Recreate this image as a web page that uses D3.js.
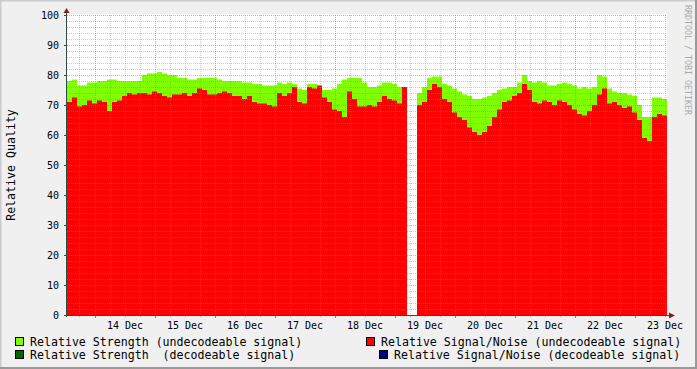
<!DOCTYPE html>
<html>
<head>
<meta charset="utf-8">
<script src="https://cdn.jsdelivr.net/npm/d3@7"></script>
<style>
  html, body { margin: 0; padding: 0; background: #f0f0f0; }
  svg { display: block; }
  text { font-family: 'DejaVu Sans Mono', monospace; }
</style>
</head>
<body>
<div id="viz"></div>
<script>
const width = 697;
const height = 369;
const plot = {left: 67, right: 667, top: 15, bottom: 315};

// samples every 2 hours, first one at 13 Dec 13:00 (null = no data)
const startTime = Date.UTC(2008, 11, 13, 13);
const stepHours = 2;

const strength = [
  78, 78.5, 76.5, 76.5, 77.5, 77.5, 78, 78, 78.5, 78.5,
  78, 78, 78, 78, 78, 80, 80.5, 80.5, 81, 80.5,
  80, 80, 79, 79, 78.5, 78.5, 79, 79, 79, 79,
  78.5, 78, 78, 78, 78, 77.5, 77.5, 77, 77, 76.5,
  76.5, 76.5, 77.5, 77, 77.5, 77, 75.5, 75, 77, 77,
  76.5, 75, 75, 75.5, 77, 78.5, 79, 79, 79, 77.5,
  76, 76, 76.5, 77.5, 77.5, 77, 76, 75.5, 75.5, null,
  74, 76, 79, 79.5, 79.5, 77, 76.5, 75.5, 74.5, 73.5,
  73, 72, 72, 72.5, 73, 74, 75, 75.5, 76, 76,
  77.5, 80, 78, 77.5, 78, 77.5, 76.5, 76.5, 77, 77.5,
  77, 76.5, 75.5, 76, 75.5, 76, 80, 79.5, 75.5, 74.5,
  74, 74, 73.5, 73, 70, 66, 66, 72.5, 72.5, 72,
  71
];

const signalNoise = [
  71, 72.5, 69.5, 70, 71.5, 70.5, 71.5, 71, 68, 71,
  71.5, 73, 74, 73.5, 74, 74, 73.5, 74.5, 74, 73,
  72.5, 73.5, 73.5, 74, 73, 74, 75.5, 75, 73.5, 73.5,
  74, 74.5, 74, 73, 73, 72, 73, 71, 70.5, 70.5,
  70, 69.5, 74, 73, 74, 76, 71, 70.5, 76, 75.5,
  76.5, 72.5, 71, 68.5, 68, 66, 74.5, 72, 69.5, 69.5,
  70, 69.5, 71, 73, 72, 71.5, 70.5, 76, 76, null,
  70, 71, 75, 77, 76, 72, 71, 67.5, 66, 65,
  62.5, 61, 60, 61, 63, 66, 68.5, 71, 71.5, 73,
  74, 77, 75, 71, 70.5, 71.5, 71, 70, 71.5, 71,
  70, 68.5, 67, 66.5, 68, 70, 73.5, 75.5, 70.5, 71,
  70, 69, 69.5, 67.5, 65, 59, 58, 66, 67, 66.5,
  65
];

const yTicks = [0, 10, 20, 30, 40, 50, 60, 70, 80, 90, 100];
const dayLabels = ['14 Dec', '15 Dec', '16 Dec', '17 Dec', '18 Dec',
                   '19 Dec', '20 Dec', '21 Dec', '22 Dec', '23 Dec'];

const legendItems = [
  {label: 'Relative Strength (undecodeable signal)', color: '#80ff00', x: 15, y: 337},
  {label: 'Relative Signal/Noise (undecodeable signal)', color: '#ff0000', x: 366, y: 337},
  {label: 'Relative Strength  (decodeable signal)', color: '#006600', x: 15, y: 350},
  {label: 'Relative Signal/Noise (decodeable signal)', color: '#000088', x: 379, y: 350}
];

const data = strength.map((s, i) => ({
  time: new Date(startTime + i * stepHours * 3600e3),
  strength: s,
  sn: signalNoise[i]
}));

const x = d3.scaleUtc()
  .domain([new Date(startTime), new Date(startTime + 240 * 3600e3)])
  .range([plot.left, plot.right]);

const y = d3.scaleLinear()
  .domain([0, 100])
  .range([plot.bottom, plot.top]);

const svg = d3.select('#viz')
  .append('svg')
    .attr('width', width)
    .attr('height', height)
    .attr('viewBox', [0, 0, width, height]);

// background + 3d frame
svg.append('rect').attr('width', width).attr('height', height).attr('fill', '#f0f0f0');
svg.append('path').attr('d', `M0.5,${height} V0.5 H${width}`).attr('stroke', '#cbcbcb').attr('stroke-width', 2).attr('fill', 'none');
svg.append('path').attr('d', `M0,${height - 1} H${width - 1} V0`).attr('stroke', '#999').attr('stroke-width', 2).attr('fill', 'none');

// canvas
svg.append('rect')
  .attr('x', plot.left).attr('y', plot.top - 1)
  .attr('width', plot.right - plot.left).attr('height', plot.bottom - plot.top + 1)
  .attr('fill', '#fff');

// areas: strength first, signal/noise drawn over it
const area = key => d3.area()
  .defined(d => d[key] != null)
  .x(d => x(d.time))
  .y0(y(0))
  .y1(d => y(d[key]))
  .curve(d3.curveStepAfter);

svg.append('path').datum(data).attr('d', area('strength')).attr('fill', '#80ff00');
svg.append('path').datum(data).attr('d', area('sn')).attr('fill', '#ff0000');

// grid
const grid = svg.append('g').attr('class', 'grid').attr('shape-rendering', 'crispEdges');
const sixHours = d3.utcHour.every(6).range(x.domain()[0], x.domain()[1]);
const midnights = d3.utcDay.range(x.domain()[0], x.domain()[1]);

grid.selectAll('.vminor')
  .data(sixHours.filter(t => t.getUTCHours() !== 0))
  .join('line')
    .attr('x1', d => Math.round(x(d)) + 0.5).attr('x2', d => Math.round(x(d)) + 0.5)
    .attr('y1', plot.top).attr('y2', plot.bottom)
    .attr('stroke', 'rgba(140,140,140,0.45)').attr('stroke-dasharray', '1,1');

grid.selectAll('.hminor')
  .data(d3.range(2, 101, 2).filter(v => v % 10 !== 0))
  .join('line')
    .attr('x1', plot.left).attr('x2', plot.right)
    .attr('y1', d => y(d) + 0.5).attr('y2', d => y(d) + 0.5)
    .attr('stroke', 'rgba(140,140,140,0.45)').attr('stroke-dasharray', '1,1');

grid.selectAll('.vmajor')
  .data(midnights)
  .join('line')
    .attr('x1', d => Math.round(x(d)) + 0.5).attr('x2', d => Math.round(x(d)) + 0.5)
    .attr('y1', plot.top).attr('y2', plot.bottom)
    .attr('stroke', 'rgba(230,90,90,0.55)').attr('stroke-dasharray', '1,1');

grid.selectAll('.hmajor')
  .data(yTicks.slice(1))
  .join('line')
    .attr('x1', plot.left).attr('x2', plot.right)
    .attr('y1', d => y(d) + 0.5).attr('y2', d => y(d) + 0.5)
    .attr('stroke', 'rgba(230,90,90,0.55)').attr('stroke-dasharray', '1,1');

// small ticks under x axis
grid.selectAll('.xtick')
  .data(sixHours)
  .join('line')
    .attr('x1', d => Math.round(x(d)) + 0.5).attr('x2', d => Math.round(x(d)) + 0.5)
    .attr('y1', plot.bottom).attr('y2', d => d.getUTCHours() === 0 ? plot.bottom + 3 : plot.bottom + 2)
    .attr('stroke', d => d.getUTCHours() === 0 ? '#e06060' : '#aaa');

// y axis labels
const yAxis = d3.axisLeft(y)
  .tickValues(yTicks)
  .tickSize(2)
  .tickPadding(5)
  .tickFormat(d3.format('d'));

const yAxisGroup = svg.append('g')
  .attr('transform', `translate(${plot.left - 1}, 0)`)
  .call(yAxis);
yAxisGroup.select('.domain').remove();
yAxisGroup.selectAll('line').attr('stroke', '#2c4d43');
yAxisGroup.selectAll('text')
  .attr('fill', '#000')
  .style('font-size', '10px')
  .style('font-family', "'DejaVu Sans Mono', monospace");

// x axis labels centred on noon of each day
const labelTimes = dayLabels.map((d, i) => new Date(Date.UTC(2008, 11, 14 + i, 12)));
const xAxis = d3.axisBottom(x)
  .tickValues(labelTimes)
  .tickSize(0)
  .tickPadding(7)
  .tickFormat((d, i) => dayLabels[i]);

const xAxisGroup = svg.append('g')
  .attr('transform', `translate(0, ${plot.bottom})`)
  .call(xAxis);
xAxisGroup.select('.domain').remove();
xAxisGroup.selectAll('text')
  .attr('fill', '#000')
  .style('font-size', '10px')
  .style('font-family', "'DejaVu Sans Mono', monospace");

// axis lines + arrows
svg.append('line')
  .attr('x1', plot.left - 0.5).attr('x2', plot.left - 0.5)
  .attr('y1', plot.bottom + 2).attr('y2', 11)
  .attr('stroke', '#2c4d43');
svg.append('line')
  .attr('x1', plot.left - 3).attr('x2', plot.right + 5)
  .attr('y1', plot.bottom + 0.5).attr('y2', plot.bottom + 0.5)
  .attr('stroke', '#2c4d43');
svg.append('path')
  .attr('d', `M${plot.left - 0.5},8 L${plot.left - 3.5},13 L${plot.left + 2.5},13 Z`)
  .attr('fill', '#7f1f1f');
svg.append('path')
  .attr('d', `M${plot.right + 8},${plot.bottom + 0.5} L${plot.right + 2},${plot.bottom - 2.5} L${plot.right + 2},${plot.bottom + 3.5} Z`)
  .attr('fill', '#7f1f1f');

// y axis title
svg.append('text')
  .attr('transform', `translate(15, ${(plot.top + plot.bottom) / 2}) rotate(-90)`)
  .attr('text-anchor', 'middle')
  .style('font-size', '11.6px')
  .text('Relative Quality');

// watermark
svg.append('text')
  .attr('transform', 'translate(685, 5) rotate(90)')
  .attr('text-anchor', 'start')
  .attr('fill', '#aaa')
  .style('font-size', '8.3px')
  .text('RRDTOOL / TOBI OETIKER');

// legend
const legend = svg.append('g').attr('class', 'legend')
  .selectAll('g')
  .data(legendItems)
  .join('g')
    .attr('transform', d => `translate(${d.x}, ${d.y})`);
legend.append('rect')
  .attr('x', 0.5).attr('y', 0.5)
  .attr('width', 8).attr('height', 8)
  .attr('fill', d => d.color)
  .attr('stroke', '#000');
legend.append('text')
  .attr('x', 15).attr('y', 8.5)
  .attr('xml:space', 'preserve')
  .style('white-space', 'pre')
  .style('font-size', '11.6px')
  .text(d => d.label);
</script>
</body>
</html>
